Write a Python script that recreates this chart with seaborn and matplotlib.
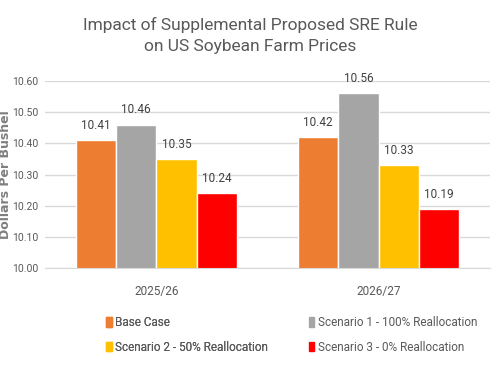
import pandas as pd
import seaborn as sns
from matplotlib import pyplot as plt

years = ['2025/26', '2026/27']
scenarios = ['Base Case', 'Scenario 1 - 100% Reallocation',
             'Scenario 2 - 50% Reallocation', 'Scenario 3 - 0% Reallocation']
base_case = [10.41, 10.42]
scenario_1 = [10.46, 10.56]
scenario_2 = [10.35, 10.33]
scenario_3 = [10.24, 10.19]
colors = ['#ED7D31', '#A5A5A5', '#FFC000', '#FF0000']

rows = []
for name, vals in zip(scenarios, [base_case, scenario_1, scenario_2, scenario_3]):
    for yr, v in zip(years, vals):
        rows.append({'Year': yr, 'Scenario': name, 'Price': v})
df = pd.DataFrame(rows)

sns.set_style('white')
plt.rcParams['font.family'] = ['Roboto', 'DejaVu Sans']

fig = plt.figure(figsize=(5, 3.75), dpi=100)
ax = fig.add_axes([0.09, 0.285, 0.89, 0.499])

sns.barplot(data=df, x='Year', y='Price', hue='Scenario', hue_order=scenarios,
            palette=colors, width=0.725, saturation=1, ax=ax, legend=False)

ax.set_ylim(10.0, 10.6)
ax.set_yticks([10.0, 10.1, 10.2, 10.3, 10.4, 10.5, 10.6])
ax.set_yticklabels([f'{t:.2f}' for t in ax.get_yticks()], fontsize=7.5, color='#595959')
ax.yaxis.grid(True, color='#D9D9D9', linewidth=1)
ax.set_axisbelow(True)
ax.tick_params(axis='x', labelsize=8.5, colors='#595959', length=0, pad=12)
ax.tick_params(axis='y', length=0, pad=5)
for s in ['top', 'right', 'left']:
    ax.spines[s].set_visible(False)
ax.spines['bottom'].set_color('#D9D9D9')
ax.set_xlabel('')
ax.set_ylabel('Dollars Per Bushel', fontsize=9, fontweight='bold', color='#7F7F7F',
              family=['DejaVu Sans'])
ax.yaxis.set_label_coords(-0.075, 0.5)

for c in ax.containers:
    ax.bar_label(c, fmt='%.2f', fontsize=8.5, color='#404040', padding=6)

fig.suptitle('Impact of Supplemental Proposed SRE Rule\non US Soybean Farm Prices',
             fontsize=12.5, color='#595959', y=0.955, linespacing=1.5)

handles = [plt.Rectangle((0, 0), 1, 1, color=c) for c in colors]
leg_kw = dict(loc='upper left', frameon=False, fontsize=8.5, labelcolor='#595959',
              handlelength=0.5, handleheight=0.9, handletextpad=0.3,
              borderaxespad=0, borderpad=0, labelspacing=1.0)
leg1 = fig.legend([handles[0], handles[2]], [scenarios[0], scenarios[2]],
                  bbox_to_anchor=(0.212, 0.158), **leg_kw)
fig.add_artist(leg1)
fig.legend([handles[1], handles[3]], [scenarios[1], scenarios[3]],
           bbox_to_anchor=(0.617, 0.158), **leg_kw)

fig.savefig('out.png', dpi=100)
